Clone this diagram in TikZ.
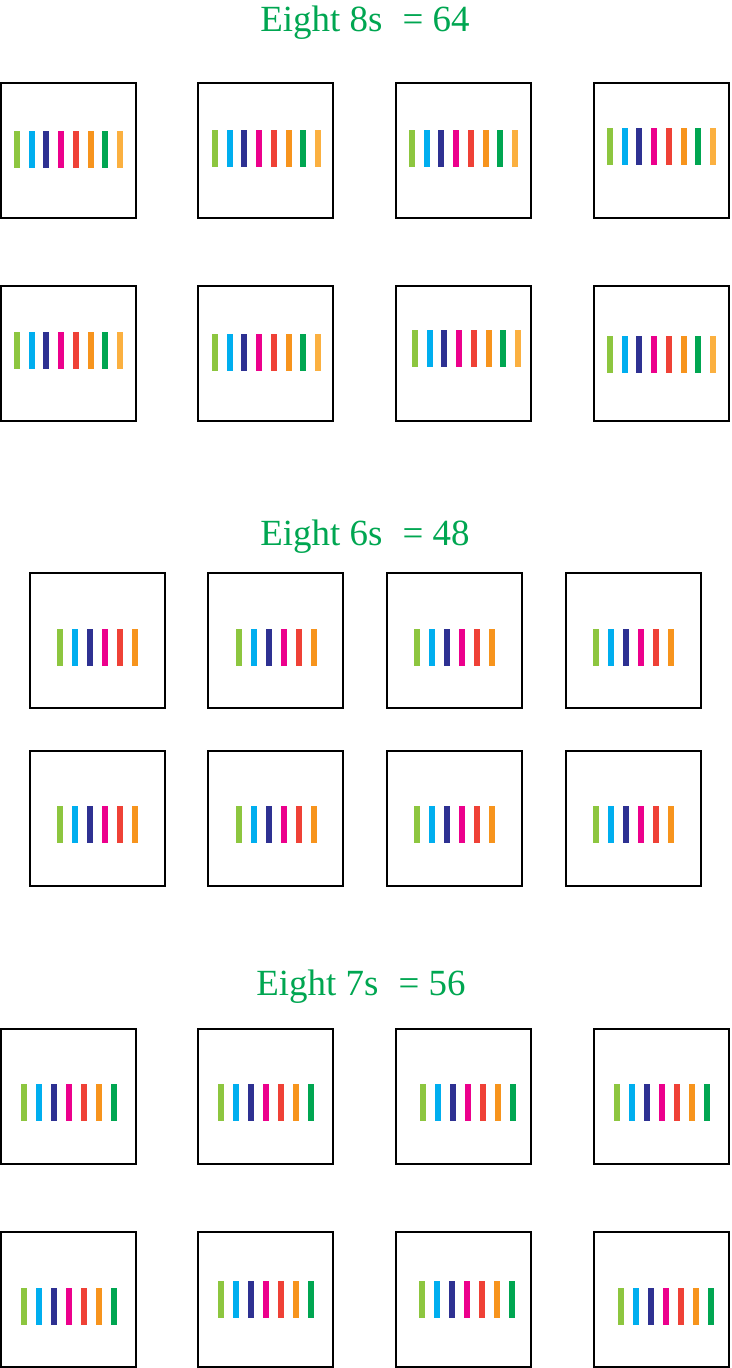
\documentclass[tikz,border=0pt]{standalone}
\usepackage{fontspec}
\setmainfont{Liberation Serif}

\definecolor{titlegreen}{HTML}{00A651}
\definecolor{barlime}{HTML}{8DC63F}
\definecolor{barcyan}{HTML}{00AEEF}
\definecolor{barnavy}{HTML}{2E3192}
\definecolor{barmagenta}{HTML}{EC008C}
\definecolor{barred}{HTML}{EF4136}
\definecolor{barorange}{HTML}{F7941D}
\definecolor{bargreen}{HTML}{00A651}
\definecolor{barlight}{HTML}{FBB040}

\tikzset{
  card/.style={draw=black,line width=0.8pt},
  sumtitle/.style={text=titlegreen,font=\fontsize{21}{25}\selectfont,anchor=base},
}

\begin{document}
\begin{tikzpicture}[x=0.02cm,y=-0.02cm]
    \useasboundingbox (0,0) rectangle (731,1368);

    % eight 8s
    \node[sumtitle] (eights) at (365,32) {Eight 8s\hspace{0.55em}= 64};
    \foreach \x in {1,198,396,594}
      \foreach \y in {83,286}
        \draw[card] (\x,\y) rectangle ++(135,135);
    \foreach \x/\y in {14/131,212/130,409/130,607/128,14/332,212/334,412/330,607/336}
      \foreach \c [count=\i from 0] in {barlime,barcyan,barnavy,barmagenta,barred,barorange,bargreen,barlight}
        \fill[\c] (\x+\i*14.7,\y) rectangle ++(6,37);

    % eight 6s
    \node[sumtitle] (sixes) at (365,545) {Eight 6s\hspace{0.55em}= 48};
    \foreach \x in {30,208,387,566}
      \foreach \y in {573,751}
        \draw[card] (\x,\y) rectangle ++(135,135);
    \foreach \x/\y in {57/629,235.5/629,414/629,592.5/629,57/806,235.5/806,414/806,592.5/806}
      \foreach \c [count=\i from 0] in {barlime,barcyan,barnavy,barmagenta,barred,barorange}
        \fill[\c] (\x+\i*15,\y) rectangle ++(6,37);

    % eight 7s
    \node[sumtitle] (sevens) at (361,995) {Eight 7s\hspace{0.55em}= 56};
    \foreach \x in {1,198,396,594}
      \foreach \y in {1029,1232}
        \draw[card] (\x,\y) rectangle ++(135,135);
    \foreach \x/\y in {20.5/1084,218/1084,419.5/1084,614/1084,20.5/1288,218/1281,419/1281,618/1288}
      \foreach \c [count=\i from 0] in {barlime,barcyan,barnavy,barmagenta,barred,barorange,bargreen}
        \fill[\c] (\x+\i*15,\y) rectangle ++(6,37);
\end{tikzpicture}
\end{document}
